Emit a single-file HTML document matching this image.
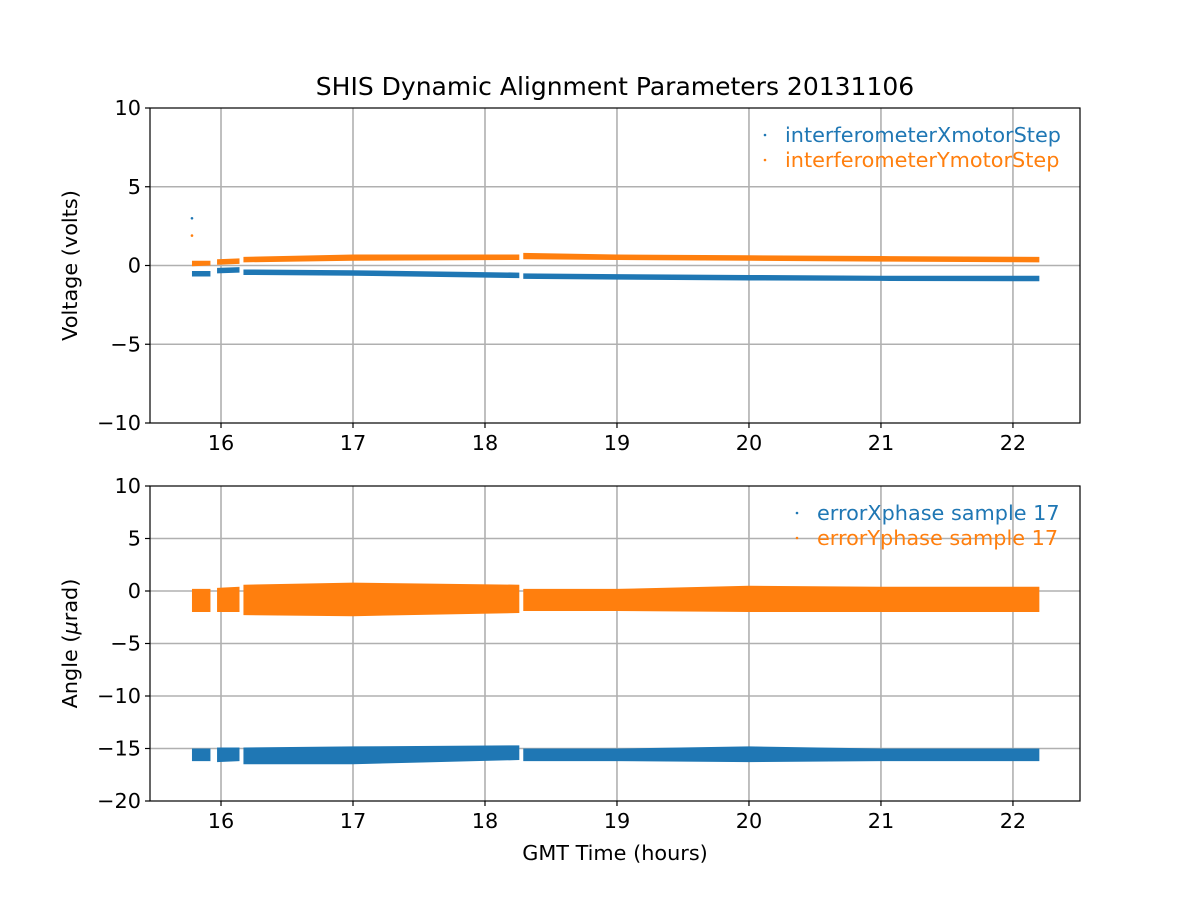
<!DOCTYPE html>
<html><head><meta charset="utf-8"><style>
body{margin:0;background:#fff}
svg text{font-family:"DejaVu Sans","Liberation Sans",sans-serif;fill:#000}
</style></head><body>
<svg id="chart" width="1200" height="900" viewBox="0 0 1200 900" xmlns="http://www.w3.org/2000/svg">
<rect width="1200" height="900" fill="#fff"/>
<text x="615" y="95" font-size="25" text-anchor="middle">SHIS Dynamic Alignment Parameters 20131106</text>
<g id="g"></g>
</svg>
<script>
const xTicks=[16,17,18,19,20,21,22];
const topYTicks=[10,5,0,-5,-10];
const botYTicks=[10,5,0,-5,-10,-15,-20];
const segStart=[15.78,15.97,16.17,18.29];
const segEnd=[15.92,16.14,18.26,22.2];
const xStepT=[[15.78,15.92],[15.97,16.14],[16.17,17,18.26],[18.29,19,20,21,22.2]];
const xStepLo=[[-0.7,-0.7],[-0.5,-0.45],[-0.6,-0.65,-0.8],[-0.85,-0.9,-0.95,-0.98,-1.0]];
const xStepHi=[[-0.35,-0.35],[-0.15,-0.1],[-0.25,-0.3,-0.45],[-0.5,-0.55,-0.6,-0.65,-0.65]];
const yStepT=xStepT;
const yStepLo=[[-0.05,0],[0.05,0.1],[0.2,0.3,0.35],[0.4,0.35,0.3,0.25,0.2]];
const yStepHi=[[0.3,0.3],[0.4,0.45],[0.55,0.7,0.7],[0.8,0.7,0.65,0.6,0.55]];
const outlierT=[15.78,15.78];
const outlierV=[3.0,1.9];
const exT=xStepT;
const exLo=[[-16.2,-16.2],[-16.3,-16.2],[-16.5,-16.5,-16.1],[-16.2,-16.2,-16.3,-16.2,-16.2]];
const exHi=[[-15.0,-15.0],[-14.9,-14.9],[-14.9,-14.8,-14.7],[-15.0,-15.0,-14.8,-15.0,-15.0]];
const eyLo=[[-2.0,-2.0],[-2.0,-2.0],[-2.3,-2.4,-2.1],[-1.9,-1.9,-2.0,-2.0,-2.0]];
const eyHi=[[0.2,0.2],[0.3,0.4],[0.6,0.8,0.6],[0.2,0.2,0.5,0.4,0.4]];

const NS="http://www.w3.org/2000/svg";
const g=document.getElementById('g');
const FS=20.8;
function el(t,a,p){const e=document.createElementNS(NS,t);for(const k in a)e.setAttribute(k,a[k]);(p||g).appendChild(e);return e;}
const X0=150,X1=1080,xmin=15.462,xmax=22.508;
const sx=v=>X0+(v-xmin)/(xmax-xmin)*(X1-X0);
function axes(top,bot,ymin,ymax,yt,name,ylabel){
  const sy=v=>bot-(v-ymin)/(ymax-ymin)*(bot-top);
  for(const t of xTicks){const l=el('line',{x1:sx(t),x2:sx(t),y1:top,y2:bot,stroke:'#b0b0b0','stroke-width':1.6});
    
    el('line',{x1:sx(t),x2:sx(t),y1:bot,y2:bot+5,stroke:'#000','stroke-width':1.2});
    const tx=el('text',{x:sx(t),y:bot+27,'font-size':FS,'text-anchor':'middle'});tx.textContent=t;
    }
  for(const t of yt){if(t!==ymin&&t!==ymax){const l=el('line',{x1:X0,x2:X1,y1:sy(t),y2:sy(t),stroke:'#b0b0b0','stroke-width':1.6});
    }
    el('line',{x1:X0-5,x2:X0,y1:sy(t),y2:sy(t),stroke:'#000','stroke-width':1.2});
    const tx=el('text',{x:X0-9,y:sy(t)+7,'font-size':FS,'text-anchor':'end'});tx.textContent=t<0?'\u2212'+(-t):t;
    }
  const yl=el('text',{x:0,y:0,'font-size':FS,'text-anchor':'middle',transform:`translate(77,${(top+bot)/2}) rotate(-90)`});
  yl.innerHTML=ylabel;
  return sy;
}
function band(sy,T,L,H,color,name){
  for(let s=0;s<T.length;s++){
    const pts=[];for(let i=0;i<T[s].length;i++)pts.push(sx(T[s][i])+','+sy(H[s][i]));
    for(let i=T[s].length-1;i>=0;i--)pts.push(sx(T[s][i])+','+sy(L[s][i]));
    const p=el('polygon',{points:pts.join(' '),fill:color});
    
  }
}
function frame(top,bot,name){const r=el('rect',{x:X0,y:top,width:X1-X0,height:bot-top,fill:'none',stroke:'#000','stroke-width':1.2});
  }
function legend(x,y,items,name){items.forEach((it,i)=>{
  const d=el('circle',{cx:x,cy:y+i*25-7,r:1.3,fill:it[1]});
  const t=el('text',{x:x+20,y:y+i*25,'font-size':FS});t.style.fill=it[1];t.textContent=it[0];
  });}

const B='#1f77b4',O='#ff7f0e';
const sy1=axes(108,423,-10,10,topYTicks,'top','Voltage (volts)');
band(sy1,xStepT,xStepLo,xStepHi,B,'x-motor-step');
band(sy1,yStepT,yStepLo,yStepHi,O,'y-motor-step');
outlierT.forEach((t,i)=>{const c=el('circle',{cx:sx(t),cy:sy1(outlierV[i]),r:1.3,fill:i?O:B});
  });
frame(108,423,'top');
legend(765,142,[['interferometerXmotorStep',B],['interferometerYmotorStep',O]],'top');

const sy2=axes(486,801,-20,10,botYTicks,'bottom','Angle (<tspan font-style="italic">μ</tspan>rad)');
band(sy2,exT,exLo,exHi,B,'error-x-phase');
band(sy2,exT,eyLo,eyHi,O,'error-y-phase');
frame(486,801,'bottom');
legend(797,520,[['errorXphase sample 17',B],['errorYphase sample 17',O]],'bottom');
const xl=el('text',{x:615,y:860,'font-size':FS,'text-anchor':'middle'});xl.textContent='GMT Time (hours)';

</script>
</body></html>
